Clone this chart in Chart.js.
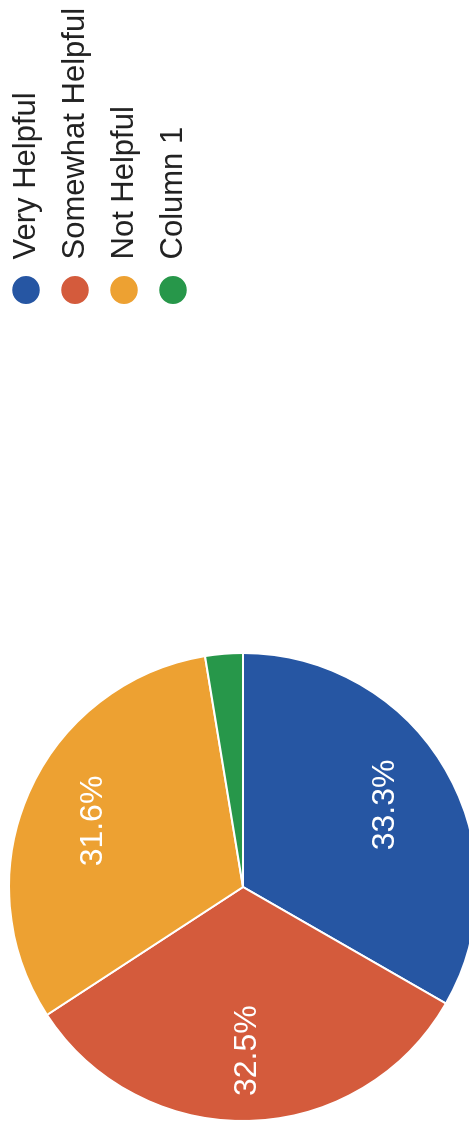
<!DOCTYPE html>
<html>
<head>
<meta charset="utf-8">
<script src="https://cdn.jsdelivr.net/npm/chart.js@4"></script>
<style>
  html, body { margin: 0; padding: 0; background: #fff; overflow: hidden; width: 469px; height: 1132px; }
  #wrap {
    position: absolute; left: 0; top: 0;
    width: 1132px; height: 486px;
    transform-origin: 0 0;
    transform: translateY(1132px) rotate(-90deg);
  }
  canvas { display: block; }
</style>
</head>
<body>
<div id="wrap"><canvas id="c" width="1132" height="486" style="width:1132px;height:486px"></canvas></div>
<script>
const categories = ['Very Helpful', 'Somewhat Helpful', 'Not Helpful', 'Column 1'];
const values = [33.3, 32.5, 31.6, 2.6];
const colors = ['#2656a3', '#d45b3c', '#eda132', '#27974a'];

const FONT = '"Liberation Sans", Arial, sans-serif';

const placeLegend = {
  id: 'placeLegend',
  afterLayout(chart) {
    const lg = chart.legend;
    const w = lg.width, h = lg.height;
    lg.left = 809; lg.right = 809 + w;
    lg.top = -7.5; lg.bottom = -7.5 + h;
  }
};

const sliceLabels = {
  id: 'sliceLabels',
  afterDatasetsDraw(chart) {
    const ctx = chart.ctx;
    const meta = chart.getDatasetMeta(0);
    const data = chart.data.datasets[0].data;
    const total = data.reduce((a, b) => a + b, 0);
    ctx.save();
    ctx.font = '32px ' + FONT;
    ctx.fillStyle = '#ffffff';
    ctx.textAlign = 'center';
    ctx.textBaseline = 'middle';
    meta.data.forEach((arc, i) => {
      const pct = data[i] / total * 100;
      if (pct < 5) return;
      const p = arc.getProps(['x', 'y', 'startAngle', 'endAngle', 'outerRadius'], true);
      const mid = (p.startAngle + p.endAngle) / 2;
      const r = p.outerRadius * 0.70;
      ctx.fillText(pct.toFixed(1) + '%', p.x + Math.cos(mid) * r, p.y + Math.sin(mid) * r);
    });
    ctx.restore();
  }
};

new Chart(document.getElementById('c'), {
  type: 'pie',
  data: {
    labels: categories,
    datasets: [{
      data: values,
      backgroundColor: colors,
      borderColor: '#ffffff',
      borderWidth: 2
    }]
  },
  options: {
    responsive: false,
    animation: false,
    rotation: 90,
    radius: 234,
    layout: { padding: { left: 11, right: 1132 - 479, top: 0, bottom: 0 } },
    plugins: {
      tooltip: { enabled: false },
      legend: {
        position: 'chartArea',
        align: 'start',
        labels: {
          usePointStyle: true,
          pointStyle: 'circle',
          boxHeight: 21,
          pointStyleWidth: 30,
          padding: 18,
          color: '#222222',
          font: { family: FONT, size: 31 }
        }
      }
    }
  },
  plugins: [placeLegend, sliceLabels]
});
</script>
</body>
</html>
